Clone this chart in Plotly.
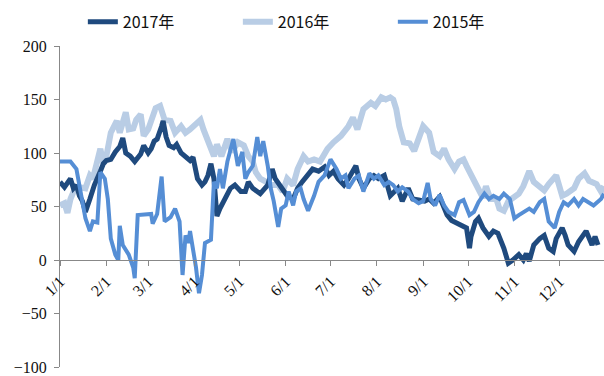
import datetime as dt
import plotly.graph_objects as go

# ---- data (day offset from Jan 1, value) ----
days_2017 = [0, 3, 7, 9, 11, 13, 15, 17, 20, 23, 27, 29, 31, 34, 37, 40, 42, 44, 47, 50, 54, 56, 59, 61, 63, 65,
             68, 69, 71, 73, 76, 78, 81, 84, 87, 89, 92, 95, 97, 99, 101, 103, 105, 107, 111, 114, 117, 121, 124,
             126, 129, 134, 139, 142, 144, 148, 152, 156, 159, 162, 166, 169, 173, 177, 180, 183, 186, 190, 193,
             198, 200, 203, 207, 210, 213, 217, 219, 221, 226, 229, 233, 236, 240, 244, 247, 250, 254, 257, 259,
             262, 266, 270, 272, 274, 275, 278, 280, 283, 287, 290, 293, 297, 300, 303, 307, 310, 312, 314, 317,
             321, 324, 327, 330, 332, 336, 338, 340, 344, 347, 350, 352, 356, 358, 360]
vals_2017 = [73, 68, 76, 67, 70, 60, 55, 45, 57, 70, 83, 90, 93, 94, 101, 106, 114, 100, 97, 92, 99, 107, 100, 104,
             111, 113, 125, 130, 115, 107, 105, 108, 100, 96, 93, 96, 76, 70, 73, 79, 90, 76, 41, 48, 60, 67, 70, 64,
             64, 73, 67, 62, 70, 85, 76, 67, 60, 57, 67, 73, 79, 85, 83, 87, 79, 83, 76, 70, 76, 88, 76, 67, 76, 79,
             76, 79, 70, 60, 67, 55, 67, 57, 56, 55, 57, 53, 59, 48, 42, 37, 34, 31, 30, 11, 22, 36, 39, 30, 22, 27,
             25, 11, -3, 0, 5, 0, 6, -1, 14, 20, 23, 11, 8, 20, 30, 23, 14, 8, 17, 23, 27, 14, 22, 14]

days_2016 = [0, 3, 5, 7, 10, 13, 17, 20, 22, 24, 27, 29, 31, 34, 36, 38, 40, 44, 46, 49, 51, 54, 56, 59, 62, 64,
             67, 70, 74, 77, 81, 84, 87, 91, 94, 96, 99, 101, 103, 105, 108, 112, 115, 119, 123, 126, 129, 131,
             134, 138, 141, 146, 149, 152, 156, 159, 163, 166, 170, 174, 179, 183, 188, 193, 196, 199, 203, 208,
             211, 215, 218, 221, 223, 225, 227, 230, 234, 237, 240, 243, 247, 250, 254, 257, 260, 264, 267, 270,
             272, 275, 277, 280, 283, 285, 288, 292, 294, 297, 300, 303, 307, 310, 314, 317, 321, 324, 327, 332,
             336, 339, 344, 347, 351, 354, 359, 362, 364]
vals_2016 = [51, 53, 44, 57, 67, 68, 67, 79, 76, 87, 104, 90, 97, 119, 125, 130, 119, 138, 122, 123, 131, 136, 116,
             122, 134, 142, 144, 131, 130, 119, 125, 119, 122, 128, 131, 122, 112, 104, 97, 108, 97, 113, 101, 110,
             107, 97, 92, 82, 76, 73, 70, 70, 64, 76, 70, 85, 97, 92, 94, 92, 104, 110, 116, 125, 133, 122, 141, 147,
             144, 152, 150, 152, 150, 141, 125, 110, 109, 102, 113, 125, 119, 101, 97, 104, 94, 85, 92, 94, 88, 79,
             76, 64, 58, 69, 57, 57, 48, 46, 55, 58, 62, 69, 83, 73, 69, 65, 71, 79, 60, 62, 67, 76, 81, 74, 71, 64, 69]

days_2015 = [0, 7, 11, 13, 15, 17, 20, 22, 25, 27, 30, 32, 34, 37, 39, 40, 42, 46, 49, 50, 52, 57, 61, 62, 65, 68,
             70, 74, 77, 80, 82, 84, 86, 87, 91, 93, 95, 97, 101, 103, 105, 107, 109, 112, 116, 119, 122, 124, 126,
             129, 132, 134, 136, 139, 141, 143, 146, 148, 151, 153, 156, 158, 161, 163, 166, 170, 173, 177, 181,
             185, 188, 191, 193, 197, 200, 203, 207, 210, 213, 217, 220, 223, 226, 229, 233, 236, 240, 243, 246,
             248, 251, 254, 257, 260, 264, 267, 270, 274, 277, 280, 284, 287, 290, 294, 297, 301, 304, 307, 311,
             314, 317, 321, 324, 327, 331, 334, 337, 340, 344, 347, 350, 354, 357, 362, 364]
vals_2015 = [92, 92, 85, 70, 57, 39, 27, 36, 35, 82, 76, 57, 20, 5, 0, 32, 14, 5, -7, -17, 42, 43, 43, 34, 43, 78,
             36, 40, 48, 36, -14, 23, 16, 27, -7, -31, -14, 16, 19, 73, 67, 85, 67, 92, 113, 88, 101, 76, 82, 88,
             115, 97, 111, 88, 67, 55, 31, 48, 51, 64, 51, 64, 67, 57, 46, 60, 73, 79, 94, 85, 76, 79, 67, 76, 79,
             64, 81, 76, 79, 70, 73, 70, 64, 68, 64, 57, 53, 55, 72, 57, 51, 61, 51, 45, 42, 54, 56, 42, 45, 54, 62,
             57, 60, 57, 62, 57, 39, 42, 45, 48, 45, 54, 57, 36, 30, 45, 54, 51, 57, 51, 57, 54, 51, 57, 62]

series_names = ["2017年", "2016年", "2015年"]
colors = ["#1f4a7e", "#b9cde5", "#558ed5"]
widths = [5, 6, 4]
y_ticks = [-100, -50, 0, 50, 100, 150, 200]

base = dt.date(2017, 1, 1)


def to_dates(days):
    return [(base + dt.timedelta(days=d)).isoformat() for d in days]


fig = go.Figure()
# drawing order: 2016 (bottom), 2017, 2015 (top); legend order via legendrank
order = [(1, days_2016, vals_2016), (0, days_2017, vals_2017), (2, days_2015, vals_2015)]
for idx, d, v in order:
    fig.add_trace(go.Scatter(
        x=to_dates(d), y=v, mode="lines", name=series_names[idx],
        line=dict(color=colors[idx], width=widths[idx]),
        legendrank=idx + 1,
    ))

fig.update_layout(
    width=604, height=376,
    margin=dict(l=60, r=0, t=46, b=6),
    paper_bgcolor="white", plot_bgcolor="white",
    showlegend=True,
    legend=dict(
        orientation="h", x=0.042, xanchor="left", y=1.075, yanchor="middle",
        font=dict(family="Noto Sans CJK SC", size=16, color="#111"),
        entrywidth=110, entrywidthmode="pixels",
        itemwidth=30, traceorder="normal",
    ),
    xaxis=dict(
        type="date", range=["2017-01-01", "2017-12-31"],
        dtick="M1", tick0="2017-01-01", tickformat="%-m/%-d",
        tickangle=-45, showgrid=False, zeroline=False,
        showline=True, linecolor="#888", linewidth=1,
        ticks="outside", ticklen=5, tickcolor="#888",
        anchor="free", position=1 / 3,
        tickfont=dict(family="Liberation Serif", size=16, color="#111"),
    ),
    yaxis=dict(
        range=[-100, 200], tickvals=y_ticks, showgrid=False, zeroline=False,
        showline=True, linecolor="#888", linewidth=1,
        ticks="outside", ticklen=5, tickcolor="#888",
        ticklabeloverflow="allow", ticklabelstandoff=4,
        tickfont=dict(family="Liberation Serif", size=16, color="#111"),
    ),
)

fig.write_html("out.html")
